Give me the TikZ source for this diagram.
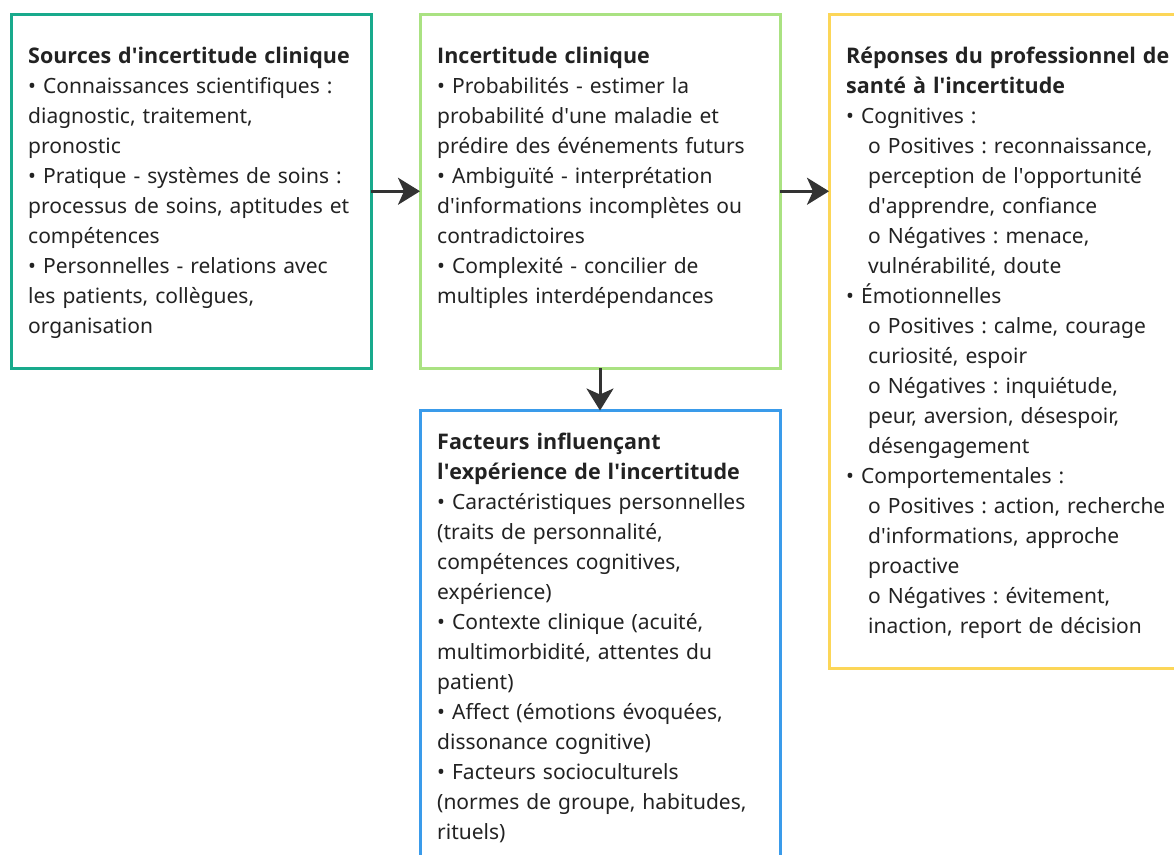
\documentclass[tikz,border=0pt]{standalone}
\usepackage{fontspec}
\setmainfont{Noto Sans}
\newfontfamily\tfont{Open Sans}
\usetikzlibrary{arrows.meta}
\definecolor{cteal}{RGB}{24,170,140}
\definecolor{cgreen}{RGB}{170,226,130}
\definecolor{cyellow}{RGB}{252,214,88}
\definecolor{cblue}{RGB}{58,155,234}
\definecolor{ctext}{RGB}{34,34,34}
\definecolor{carrow}{RGB}{51,51,51}
\newcommand{\ind}{\hspace*{22pt}}
\newcommand{\ap}{\textquotesingle}
\newcommand{\ttl}[1]{{\tfont\bfseries\fontsize{21.5}{30}\selectfont #1}}
\frenchspacing
\begin{document}
\begin{tikzpicture}[x=1pt,y=-1pt,
  box/.style={draw, line width=3pt, outer sep=0pt, inner sep=0pt, minimum width=360pt},
  txt/.style={anchor=base west, inner sep=0pt, text width=345pt, align=left, text=ctext, font=\fontsize{21}{30}\selectfont\frenchspacing},
  conn/.style={draw=carrow, line width=3pt, -{Stealth[length=22pt,width=27pt,inset=6pt]}}]
\useasboundingbox (0,0) rectangle (1174,854);
\node[box, draw=cteal, minimum height=353.5pt] (b1) at (191,191.25) {};
\node[box, draw=cgreen, minimum height=353.5pt] (b2) at (600,191.25) {};
\node[box, draw=cyellow, minimum height=654pt] (b3) at (1009,341.5) {};
\node[box, draw=cblue, minimum height=459.5pt] (b4) at (600,640.25) {};

\node[txt] (t1) at (28,63) {\ttl{Sources d\ap incertitude clinique}\\
• Connaissances scientifiques :\\
diagnostic, traitement,\\
pronostic\\
• Pratique - systèmes de soins :\\
processus de soins, aptitudes et\\
compétences\\
• Personnelles - relations avec\\
les patients, collègues,\\
organisation};

\node[txt] (t2) at (437,63) {\ttl{Incertitude clinique}\\
• Probabilités - estimer la\\
probabilité d\ap une maladie et\\
prédire des événements futurs\\
• Ambiguïté - interprétation\\
d\ap informations incomplètes ou\\
contradictoires\\
• Complexité - concilier de\\
multiples interdépendances};

\node[txt] (t3) at (846,63) {\ttl{Réponses du professionnel de}\\
\ttl{santé à l\ap incertitude}\\
• Cognitives :\\
\ind o Positives : reconnaissance,\\
\ind perception de l\ap opportunité\\
\ind d\ap apprendre, confiance\\
\ind o Négatives : menace,\\
\ind vulnérabilité, doute\\
• Émotionnelles\\
\ind o Positives : calme, courage\\
\ind curiosité, espoir\\
\ind o Négatives : inquiétude,\\
\ind peur, aversion, désespoir,\\
\ind désengagement\\
• Comportementales :\\
\ind o Positives : action, recherche\\
\ind d\ap informations, approche\\
\ind proactive\\
\ind o Négatives : évitement,\\
\ind inaction, report de décision};

\node[txt] (t4) at (437,449.5) {\ttl{Facteurs influençant}\\
\ttl{l\ap expérience de l\ap incertitude}\\
• Caractéristiques personnelles\\
(traits de personnalité,\\
compétences cognitives,\\
expérience)\\
• Contexte clinique (acuité,\\
multimorbidité, attentes du\\
patient)\\
• Affect (émotions évoquées,\\
dissonance cognitive)\\
• Facteurs socioculturels\\
(normes de groupe, habitudes,\\
rituels)};

\draw[conn] (b1) -- (b2);
\draw[conn] (b2.east) -- (b2.east -| b3.west);
\draw[conn] (b2.south) -- (b4.north);
\end{tikzpicture}
\end{document}
